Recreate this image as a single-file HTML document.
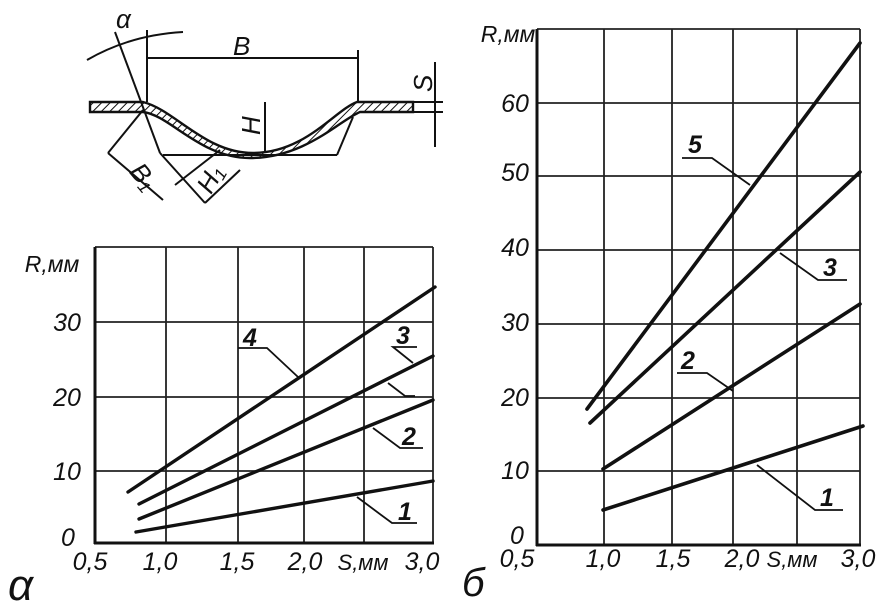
<!DOCTYPE html>
<html><head><meta charset="utf-8"><style>
html,body{margin:0;padding:0;background:#fff;}
svg{display:block}
text{font-family:"Liberation Sans",sans-serif;font-style:italic;fill:#111}
</style></head><body>
<svg width="889" height="609" viewBox="0 0 889 609" xmlns="http://www.w3.org/2000/svg">
<defs>
<pattern id="h" width="6" height="6" patternUnits="userSpaceOnUse" patternTransform="rotate(45)">
<line x1="0" y1="0" x2="0" y2="6" stroke="#111" stroke-width="2"/>
</pattern>
</defs>
<rect width="889" height="609" fill="#fff"/>
<!-- LEFT CHART grid -->
<g stroke="#222" stroke-width="1.8" fill="none">
<line x1="95" y1="247" x2="433" y2="247"/>
<line x1="95" y1="322" x2="433" y2="322"/>
<line x1="95" y1="397" x2="433" y2="397"/>
<line x1="95" y1="471" x2="433" y2="471"/>
<line x1="166" y1="247" x2="166" y2="543"/>
<line x1="238" y1="247" x2="238" y2="543"/>
<line x1="304" y1="247" x2="304" y2="543"/>
<line x1="364" y1="247" x2="364" y2="543"/>
<line x1="433" y1="247" x2="433" y2="543"/>
</g>
<g stroke="#111" stroke-width="3">
<line x1="95" y1="247" x2="95" y2="544"/>
<line x1="94" y1="543" x2="434" y2="543"/>
</g>
<g stroke="#111" stroke-width="3.4" stroke-linecap="round">
<line x1="128" y1="492" x2="435" y2="287"/>
<line x1="139" y1="504" x2="433" y2="356"/>
<line x1="139" y1="519" x2="433" y2="400"/>
<line x1="136" y1="532" x2="433" y2="481"/>
</g>
<g stroke="#111" stroke-width="1.8" fill="none">
<polyline points="238,348 267,348 298,377"/>
<polyline points="417,347 393,347 413,363"/>
<polyline points="388,383 405,396 415,396"/>
<polyline points="373,428 400,448 423,448"/>
<polyline points="357,497 392,523 417,523"/>
</g>
<g font-size="25" font-weight="bold">
<text x="243" y="346">4</text>
<text x="396" y="344">3</text>
<text x="402" y="445">2</text>
<text x="398" y="520">1</text>
</g>
<g font-size="25" text-anchor="middle">
<text x="67" y="331">30</text>
<text x="67" y="406">20</text>
<text x="67" y="480">10</text>
<text x="68" y="546">0</text>
<text x="90" y="570">0,5</text>
<text x="160" y="570">1,0</text>
<text x="237" y="570">1,5</text>
<text x="305" y="570">2,0</text>
<text x="363" y="570" font-size="22">S,мм</text>
<text x="422" y="570">3,0</text>
<text x="52" y="272" font-size="23">R,мм</text>
</g>
<text x="8" y="600" font-size="44">α</text>

<!-- RIGHT CHART grid -->
<g stroke="#222" stroke-width="1.8" fill="none">
<line x1="537" y1="29" x2="860" y2="29"/>
<line x1="537" y1="103" x2="860" y2="103"/>
<line x1="537" y1="176" x2="860" y2="176"/>
<line x1="537" y1="250" x2="860" y2="250"/>
<line x1="537" y1="324" x2="860" y2="324"/>
<line x1="537" y1="398" x2="860" y2="398"/>
<line x1="537" y1="471" x2="860" y2="471"/>
<line x1="604" y1="29" x2="604" y2="545"/>
<line x1="672" y1="29" x2="672" y2="545"/>
<line x1="733" y1="29" x2="733" y2="545"/>
<line x1="797" y1="29" x2="797" y2="545"/>
<line x1="860" y1="29" x2="860" y2="545"/>
</g>
<g stroke="#111" stroke-width="3">
<line x1="537" y1="29" x2="537" y2="546"/>
<line x1="536" y1="545" x2="861" y2="545"/>
</g>
<g stroke="#111" stroke-width="3.6" stroke-linecap="round">
<line x1="587" y1="409" x2="860" y2="43"/>
<line x1="590" y1="423" x2="860" y2="172"/>
<line x1="603" y1="469" x2="860" y2="304"/>
<line x1="603" y1="510" x2="863" y2="426"/>
</g>
<g stroke="#111" stroke-width="1.8" fill="none">
<polyline points="682,158 712,158 750,185"/>
<polyline points="847,280 818,280 780,253"/>
<polyline points="677,373 707,373 733,391"/>
<polyline points="843,510 815,510 757,465"/>
</g>
<g font-size="25" font-weight="bold">
<text x="688" y="153">5</text>
<text x="823" y="276">3</text>
<text x="681" y="369">2</text>
<text x="820" y="506">1</text>
</g>
<g font-size="25" text-anchor="middle">
<text x="515" y="112">60</text>
<text x="515" y="181">50</text>
<text x="515" y="256">40</text>
<text x="515" y="331">30</text>
<text x="515" y="406">20</text>
<text x="515" y="479">10</text>
<text x="517" y="544">0</text>
<text x="517" y="567">0,5</text>
<text x="603" y="567">1,0</text>
<text x="673" y="567">1,5</text>
<text x="742" y="567">2,0</text>
<text x="792" y="567" font-size="22">S,мм</text>
<text x="858" y="567">3,0</text>
<text x="508" y="42" font-size="23">R,мм</text>
</g>
<text x="462" y="596" font-size="40">б</text>

<!-- TOP DIAGRAM -->
<path d="M90,102 L143,102 C175,110 205,153 253,153 C305,153 335,110 357,102 L413,102 L413,112 L360,112 C340,120 305,158 250,158 C200,158 170,115 143,112 L90,112 Z" fill="url(#h)" stroke="#111" stroke-width="2.4"/>
<g stroke="#111" stroke-width="2" fill="none">
<line x1="147" y1="30" x2="147" y2="102"/>
<line x1="358" y1="50" x2="358" y2="102"/>
<line x1="147" y1="58" x2="358" y2="58"/>
<path d="M87,60 Q130,35 183,32"/>
<line x1="115" y1="32" x2="160" y2="153"/>
<line x1="265" y1="102" x2="265" y2="153"/>
<line x1="163" y1="155" x2="337" y2="155"/>
<line x1="337" y1="155" x2="353" y2="117"/>
<line x1="435" y1="62" x2="435" y2="147"/>
<line x1="413" y1="102" x2="443" y2="102"/>
<line x1="413" y1="112" x2="443" y2="112"/>
<line x1="143" y1="110" x2="108" y2="153"/>
<line x1="108" y1="153" x2="163" y2="200"/>
<line x1="160" y1="153" x2="205" y2="203"/>
<line x1="205" y1="203" x2="240" y2="170"/>
<line x1="175" y1="185" x2="220" y2="150"/>
</g>
<g font-size="26">
<text x="116" y="28">α</text>
<text x="233" y="55">B</text>
<text x="410" y="90" transform="rotate(-90 422 80)">S</text>
<text x="240" y="135" transform="rotate(-90 250 125)">H</text>
<text x="130" y="185" transform="rotate(50 143 177)">B₁</text>
<text x="200" y="190" transform="rotate(-60 210 183)">H₁</text>
</g>
</svg>
</body></html>
